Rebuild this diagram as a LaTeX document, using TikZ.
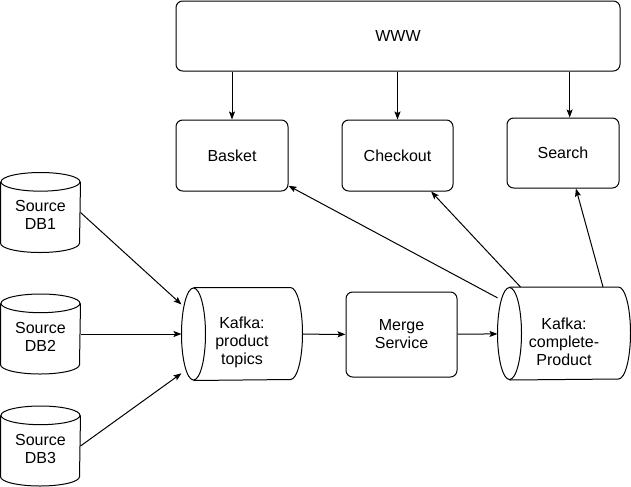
\documentclass[tikz,border=0pt]{standalone}
\usepackage{fontspec}
\setmainfont{Liberation Sans}
\usetikzlibrary{arrows.meta,calc}
% outline of a lying cylinder round a named node
\newcommand{\topicshape}[1]{%
	\draw ([xshift=9pt]#1.north west) -- ([xshift=-9pt]#1.north east)
		arc[start angle=90, end angle=-90, x radius=9pt, y radius=34.5pt] -- ([xshift=9pt]#1.south west);
	\draw ([xshift=9pt]#1.west) ellipse [x radius=9pt, y radius=34.5pt];}
% outline of a standing cylinder round a named node
\newcommand{\dbshape}[1]{%
	\draw ([yshift=-7pt]#1.north west) -- ([yshift=7pt]#1.south west)
		arc[start angle=180, end angle=360, x radius=29.625pt, y radius=7pt] -- ([yshift=-7pt]#1.north east);
	\draw ([yshift=-7pt]#1.north) ellipse [x radius=29.625pt, y radius=7pt];}
\begin{document}
\begin{tikzpicture}[x=0.75pt,y=-0.75pt,line width=0.75pt,>={Stealth[length=6pt,width=4.5pt,inset=1.2pt]},
		font=\fontsize{12}{13.5}\selectfont,
		box/.style={draw, rounded corners=5pt, align=center, inner sep=0pt},
		db/.style={align=center, inner sep=0pt, minimum width=59.25pt, minimum height=59.25pt},
		topic/.style={align=center, inner sep=0pt, minimum height=69pt}]
		\useasboundingbox (0,0) rectangle (631,486);
		% front end and services
		\node[box, minimum width=333pt, minimum height=52.5pt] (www) at (398,36) {WWW};
		\node[box, minimum width=84pt, minimum height=53.25pt] (basket) at (232,155.5) {Basket};
		\node[box, minimum width=83.25pt, minimum height=53.25pt] (checkout) at (397.5,155.5) {Checkout};
		\node[box, minimum width=84pt, minimum height=52.5pt] (search) at (563,153) {Search};
		
		% sources
		\node[db] (db1) at (40.5,212.5) {\rule{0pt}{12.5pt}Source\\DB1};
		\node[db] (db2) at (40.5,334) {\rule{0pt}{12.5pt}Source\\DB2};
		\node[db] (db3) at (40.5,446) {\rule{0pt}{12.5pt}Source\\DB3};
		\dbshape{db1}
		\dbshape{db2}
		\dbshape{db3}
		
		% pipeline
		\node[topic, minimum width=90pt] (kp) at (242,334) {\rule{0pt}{21pt}Kafka:\\product\\topics};
		\node[box, minimum width=83.25pt, minimum height=63.75pt] (merge) at (401.5,334.5) {Merge\\Service};
		\node[topic, minimum width=99pt] (kc) at (564,333.5) {\rule{0pt}{21pt}Kafka:\\complete-\\Product};
		\topicshape{kp}
		\topicshape{kc}
		
		\draw[->] (www.south -| basket.north) -- (basket.north);
		\draw[->] (www.south -| checkout.north) -- (checkout.north);
		\draw[->] ([xshift=5pt]search.north |- www.south) -- ([xshift=5pt]search.north);
		
		\draw[->] (db1.east) -- (kp.154);
		\draw[->] (db2) -- (kp);
		\draw[->] (db3.east) -- (kp.213);
		\draw[->] (kp) -- (merge);
		\draw[->] (merge) -- (kc);
		
		\draw[->] (kc) -- (basket);
		\draw[->] (kc) -- (checkout);
		\draw[->] (kc.50) -- (search.290);
	\end{tikzpicture}
\end{document}
